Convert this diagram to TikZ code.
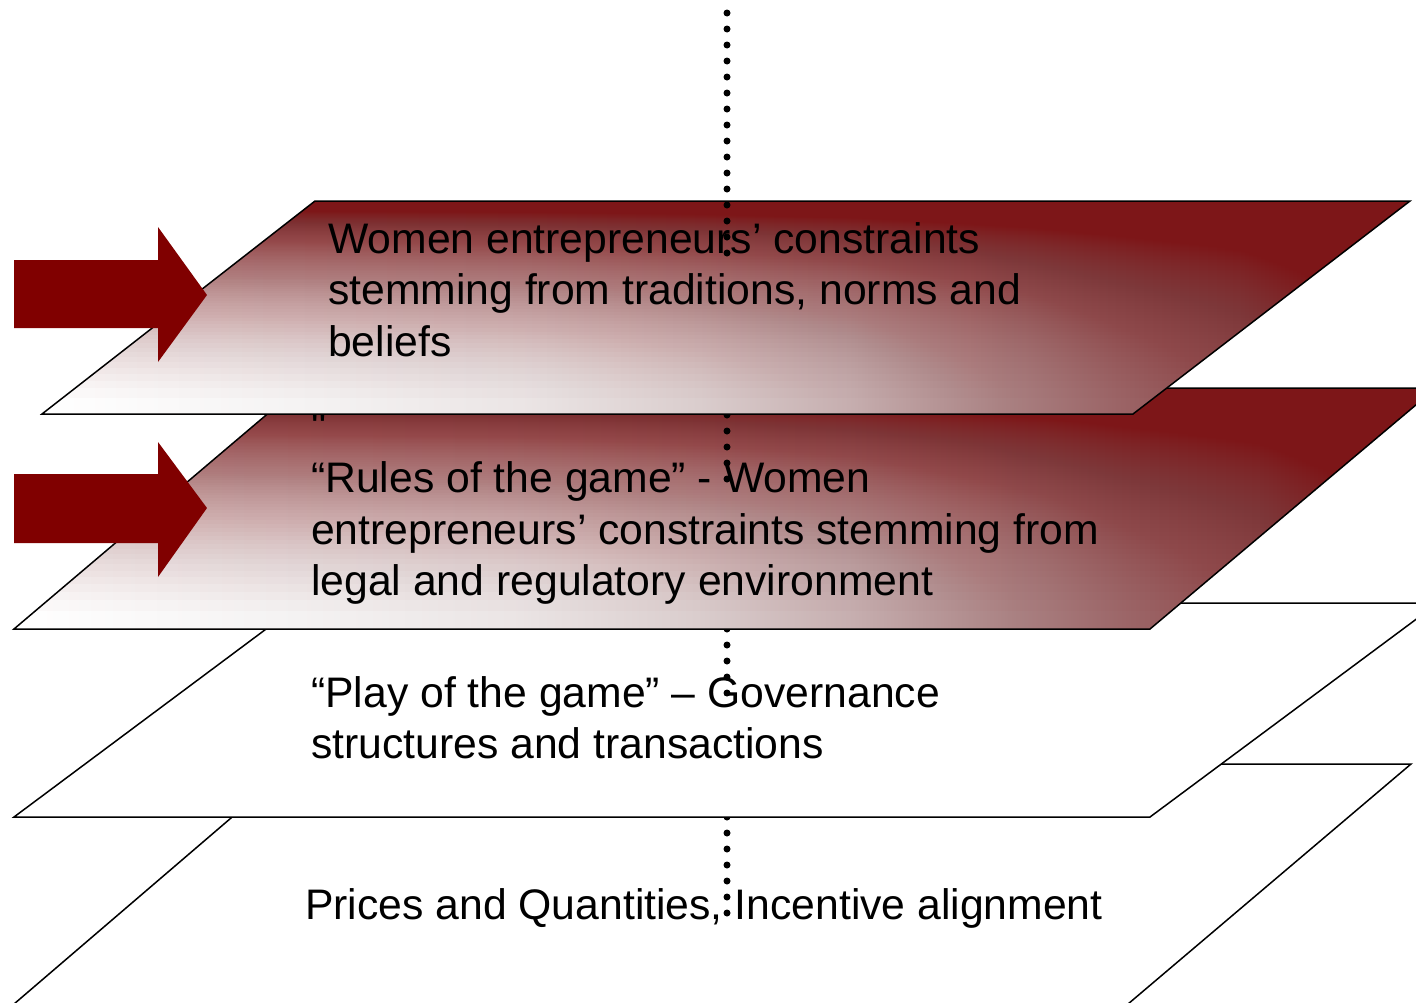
\documentclass[tikz,border=0pt]{standalone}
\usepackage{fontspec}
\setmainfont{Liberation Sans}
\newfontfamily\rawfont{Liberation Sans}
\definecolor{layred}{RGB}{125,22,24}
\definecolor{arrred}{RGB}{128,0,0}
\definecolor{ga}{HTML}{F4F2F2}
\definecolor{gb}{HTML}{EBE5E5}
\definecolor{gc}{HTML}{DACDCD}
\definecolor{gd}{HTML}{C6AEAF}
\definecolor{ge}{HTML}{AA8283}
\definecolor{gf}{HTML}{9C6668}
\definecolor{gg}{HTML}{914E50}
\definecolor{gh}{HTML}{873638}
\definecolor{gi}{HTML}{801C1E}
\pgfdeclarehorizontalshading{layershade}{100bp}{color(0bp)=(white); color(25bp)=(white); color(35bp)=(ga); color(42.5bp)=(gb); color(49bp)=(gc); color(54.5bp)=(gd); color(60bp)=(ge); color(64bp)=(gf); color(68bp)=(gg); color(71.5bp)=(gh); color(75bp)=(gi); color(100bp)=(gi)}
\begin{document}
\begin{tikzpicture}[x=1pt,y=-1pt,
  plane/.style={draw=black, line width=1.5pt, line join=miter},
  whiteplane/.style={plane, fill=white},
  txt/.style={anchor=base west, inner sep=0pt, font=\fontsize{42.7}{51.6}\selectfont},
  dotline/.style={line width=7pt, line cap=round, dash pattern=on 0pt off 16pt},
  blockarrow/.style={fill=arrred}]
\useasboundingbox (0,0) rectangle (1416,1002);
\clip (0,0) rectangle (1416,1002);

% ---- layer 4 ----
\draw[whiteplane] (14,1004) -- (1128,1004) -- (1411,764) -- (294,764) -- cycle;
\coordinate (d4a) at (727,817);
\coordinate (d4b) at (727,913);
\draw[dotline] (d4a) -- (d4b);
\node[txt] (t4a) at (305,919) {Prices and Quantities, Incentive alignment};

% ---- layer 3 ----
\draw[whiteplane] (14,817) -- (1150,817) -- (1438,603) -- (301,603) -- cycle;
\node[txt] (t3a) at (311,707) {“Play of the game” – Governance};
\node[txt] (t3b) at (311,758.6) {structures and transactions};
\coordinate (d3a) at (727,629);
\coordinate (d3b) at (727,709);
\draw[dotline] (d3a) -- (d3b);

% ---- layer 2 ----
\begin{scope}
  \clip (14,629) -- (1150,629) -- (1436,388) -- (298,388) -- cycle;
  \shade[shading=layershade] (14,388) rectangle (1436,629);
  \foreach \k in {1,...,158}{
    \pgfmathsetmacro\dd{1-((1-0.98^\k)/0.96)^(2/3)}
    \fill[layred, opacity=0.02] (0,388) rectangle (1440,{388+\dd*241});
  }
\end{scope}
\draw[plane] (14,629) -- (1150,629) -- (1436,388) -- (298,388) -- cycle;
\node[txt, font=\rawfont\fontsize{42.7}{51.6}\selectfont] (t2q) at (311,441) {"};
\node[txt] (t2a) at (311,492.6) {“Rules of the game” - Women};
\node[txt] (t2b) at (311,544.2) {entrepreneurs’ constraints stemming from};
\node[txt] (t2c) at (311,595.8) {legal and regulatory environment};
\coordinate (d2a) at (727,415);
\coordinate (d2b) at (727,495);
\draw[dotline] (d2a) -- (d2b);

% ---- layer 1 ----
\begin{scope}
  \clip (42,414) -- (1133,414) -- (1410,201) -- (315,201) -- cycle;
  \shade[shading=layershade] (42,201) rectangle (1410,414);
  \foreach \k in {1,...,158}{
    \pgfmathsetmacro\dd{1-((1-0.98^\k)/0.96)^(2/3)}
    \fill[layred, opacity=0.02] (0,201) rectangle (1420,{201+\dd*213});
  }
\end{scope}
\draw[plane] (42,414) -- (1133,414) -- (1410,201) -- (315,201) -- cycle;
\node[txt] (t1a) at (328,253) {Women entrepreneurs’ constraints};
\node[txt] (t1b) at (328,304.6) {stemming from traditions, norms and};
\node[txt] (t1c) at (328,356.2) {beliefs};
\coordinate (d1a) at (727,13);
\coordinate (d1b) at (727,269);
\draw[dotline] (d1a) -- (d1b);

% ---- block arrows ----
\fill[blockarrow] (14,260) -- (158,260) -- (158,227) -- (207,295) -- (158,362) -- (158,328) -- (14,328) -- cycle;
\fill[blockarrow] (14,474) -- (158,474) -- (158,442) -- (207,508) -- (158,577) -- (158,543) -- (14,543) -- cycle;
\end{tikzpicture}
\end{document}
